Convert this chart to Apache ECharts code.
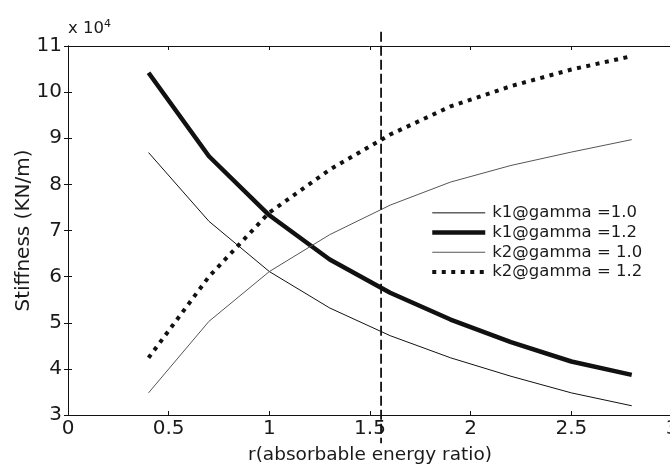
<!DOCTYPE html>
<html>
<head>
<meta charset="utf-8">
<script src="https://cdn.jsdelivr.net/npm/echarts@6/dist/echarts.min.js"></script>
<style>
  html, body { margin: 0; padding: 0; background: #fff; }
  #chart { width: 670px; height: 466px; }
</style>
</head>
<body>
<div id="chart"></div>
<script>
// absorbable energy ratio r
const rValues = [0.4, 0.7, 1.0, 1.3, 1.6, 1.9, 2.2, 2.5, 2.8]
// stiffness, in units of 10^4 KN/m
const k1Gamma10 = [8.69, 7.20, 6.11, 5.32, 4.72, 4.24, 3.84, 3.48, 3.20]
const k1Gamma12 = [10.42, 8.61, 7.33, 6.37, 5.65, 5.07, 4.58, 4.16, 3.87]
const k2Gamma10 = [3.48, 5.03, 6.11, 6.91, 7.55, 8.05, 8.41, 8.70, 8.97]
const k2Gamma12 = [4.24, 6.00, 7.39, 8.32, 9.08, 9.69, 10.13, 10.49, 10.78]
const seriesNames = ['k1@gamma =1.0', 'k1@gamma =1.2', 'k2@gamma = 1.0', 'k2@gamma = 1.2']
// vertical reference line r ≈ 1.555, drawn a bit past the axes
const refX = [1.555, 1.555]
const refY = [11.31, 2.39]

const FONT = 'DejaVu Sans, sans-serif'
const TXT = '#1a1a1a'

const lineWidths = [1, 4.5, 1, 4]
const lineColors = ['#111', '#111', '#555', '#111']
const lineTypes = ['solid', 'solid', 'solid', [4, 5.5]]

function pairs(xs, ys) {
  return xs.map((x, i) => [x, ys[i]])
}

function lineSeries(i, ys) {
  return {
    name: seriesNames[i],
    type: 'line',
    data: pairs(rValues, ys),
    showSymbol: false,
    symbol: 'none',
    animation: false,
    lineStyle: { width: lineWidths[i], color: lineColors[i], type: lineTypes[i], cap: 'butt' },
    itemStyle: { color: lineColors[i] }
  }
}

const chart = echarts.init(document.getElementById('chart'))

const axisCommon = {
  type: 'value',
  axisLine: { show: true, lineStyle: { color: '#111', width: 1 } },
  axisTick: { show: true, inside: true, length: 4, lineStyle: { color: '#111' } },
  splitLine: { show: false }
}

chart.setOption({
  animation: false,
  grid: { left: 68, right: -2, top: 46, bottom: 51, containLabel: false, outerBoundsMode: 'none' },
  xAxis: [
    Object.assign({}, axisCommon, {
      min: 0, max: 3, interval: 0.5,
      name: 'r(absorbable energy ratio)',
      nameLocation: 'middle',
      nameGap: 31,
      nameMoveOverlap: false,
      nameTextStyle: { fontFamily: FONT, fontSize: 18.5, color: TXT },
      axisLabel: { margin: 4, fontFamily: FONT, fontSize: 20, color: TXT }
    }),
    Object.assign({}, axisCommon, {
      min: 0, max: 3, interval: 0.5, position: 'top',
      axisLabel: { show: false }
    })
  ],
  yAxis: [
    Object.assign({}, axisCommon, {
      min: 3, max: 11, interval: 1,
      name: 'Stiffness (KN/m)',
      nameLocation: 'middle',
      nameGap: 34,
      nameMoveOverlap: false,
      nameTextStyle: { fontFamily: FONT, fontSize: 20, color: TXT },
      axisLabel: { margin: 6, fontFamily: FONT, fontSize: 20, color: TXT }
    }),
    Object.assign({}, axisCommon, {
      min: 3, max: 11, interval: 1, position: 'right',
      axisLabel: { show: false }
    })
  ],
  legend: {
    data: seriesNames.map((name, i) => ({
      name: name,
      itemStyle: { opacity: 0 },
      lineStyle: { width: lineWidths[i], color: lineColors[i], type: lineTypes[i], cap: 'butt' }
    })),
    orient: 'vertical',
    left: 425,
    top: 198,
    itemWidth: 53,
    itemHeight: 14,
    itemGap: 0,
    textStyle: { fontFamily: FONT, fontSize: 16.5, lineHeight: 19.7, color: TXT, padding: [0, 0, 0, 2] },
    selectedMode: false
  },
  graphic: [{
    type: 'text',
    left: 68,
    top: 19,
    style: {
      text: 'x 10{sup|4}',
      fontFamily: FONT,
      fontSize: 16.5,
      fill: TXT,
      rich: { sup: { fontSize: 11, verticalAlign: 'top', padding: [0, 0, 9, 0], fontFamily: FONT, fill: TXT } }
    }
  }],
  series: [
    lineSeries(0, k1Gamma10),
    lineSeries(1, k1Gamma12),
    lineSeries(2, k2Gamma10),
    lineSeries(3, k2Gamma12),
    {
      type: 'line',
      data: pairs(refX, refY),
      showSymbol: false,
      symbol: 'none',
      clip: false,
      silent: true,
      lineStyle: { width: 1.8, color: '#111', type: [10, 4] }
    }
  ]
})
</script>
</body>
</html>
